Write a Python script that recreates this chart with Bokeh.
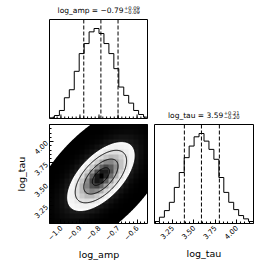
import numpy as np
from bokeh.plotting import figure
from bokeh.layouts import row, column
from bokeh.models import Span, FixedTicker, Range1d
from bokeh.core.properties import value
from bokeh.embed import file_html
from bokeh.resources import INLINE

# ---------------- data ----------------
amp_range = [-1.06, -0.54]
tau_range = [3.04, 4.20]
amp_counts = [2, 9, 24, 62, 86, 141, 194, 224, 259, 269, 254, 224, 194, 149, 94, 69, 46, 24, 12, 4]
tau_counts = [6, 19, 39, 64, 109, 154, 199, 234, 262, 272, 249, 224, 194, 139, 94, 64, 42, 24, 14, 6]
amp_quantiles = [-0.88, -0.79, -0.70]
tau_quantiles = [3.39, 3.59, 3.80]
amp_ticks = [-1.0, -0.9, -0.8, -0.7, -0.6]
amp_tick_labels = ["\u22121.0", "\u22120.9", "\u22120.8", "\u22120.7", "\u22120.6"]
tau_ticks = [3.25, 3.50, 3.75, 4.00]
tau_tick_labels = ["3.25", "3.50", "3.75", "4.00"]
amp_title = ["log_amp = \u22120.79", "+0.09", "\u22120.09"]
tau_title = ["log_tau = 3.59", "+0.21", "\u22120.20"]
# summary of the 2-D posterior (centre, spreads, correlation)
amp_center, amp_sigma = -0.79, 0.09
tau_center, tau_sigma = 3.59, 0.205
rho = 0.6
contour_sigmas = [0.5, 1.0, 1.5, 2.0]
sample_extent_sigma = 4.2

FONT = "DejaVu Sans"
nb = len(amp_counts)
FW = 99          # panel size in px
LEFT = 49        # left margin of first column
GAP = 6


def style(p):
    p.grid.visible = False
    p.outline_line_color = "black"
    p.outline_line_width = 1
    p.background_fill_color = "white"
    p.border_fill_color = "white"


def style_axis(ax, ticks, labels, minor):
    ax.ticker = FixedTicker(ticks=ticks, minor_ticks=minor)
    ax.major_label_overrides = {t: l for t, l in zip(ticks, labels)}
    ax.major_tick_in = 4
    ax.major_tick_out = 0
    ax.minor_tick_in = 2
    ax.minor_tick_out = 0
    ax.axis_line_color = None
    ax.major_tick_line_color = "black"
    ax.minor_tick_line_color = "black"
    ax.major_label_text_font = FONT
    ax.major_label_text_color = "black"
    ax.axis_label_text_font = FONT
    ax.axis_label_text_color = "black"
    ax.axis_label_text_font_style = "normal"
    ax.axis_label_text_font_size = "9.5px"
    ax.major_label_text_font_size = "7px"
    ax.major_label_orientation = np.pi / 4
    ax.major_label_standoff = 3


def title_canvas(x_range, height, left, center, parts, right_off, base_y):
    t = figure(frame_width=FW, frame_height=height, x_range=x_range,
               y_range=Range1d(0, height), x_axis_type=None, y_axis_type=None,
               min_border_left=left, min_border_right=0, min_border_top=0,
               min_border_bottom=0, toolbar_location=None, output_backend="svg")
    t.grid.visible = False
    t.outline_line_color = None
    t.text(x=[center], y=[base_y], text=[parts[0]], x_offset=right_off,
           text_align="right", text_baseline="middle", text_font=value(FONT),
           text_font_size=value("7.5px"), text_color="black")
    t.text(x=[center], y=[base_y + 2.2], text=[parts[1]], x_offset=right_off + 0.5,
           text_align="left", text_baseline="middle", text_font=value(FONT),
           text_font_size=value("5.2px"), text_color="black")
    t.text(x=[center], y=[base_y - 2.1], text=[parts[2]], x_offset=right_off + 0.5,
           text_align="left", text_baseline="middle", text_font=value(FONT),
           text_font_size=value("5.2px"), text_color="black")
    return t


amp_minor = list(np.round(np.arange(-1.06, -0.53, 0.02), 3))
tau_minor = list(np.round(np.arange(3.05, 4.21, 0.05), 3))
amp_edges = np.linspace(amp_range[0], amp_range[1], nb + 1)
tau_edges = np.linspace(tau_range[0], tau_range[1], nb + 1)
amp_xr = Range1d(*amp_range)
tau_xr = Range1d(*tau_range)

# ---------------- top-left: log_amp histogram ----------------
amp_top = 1.1 * max(amp_counts)
t1 = title_canvas(amp_xr, 19, LEFT, 0.5 * sum(amp_range), amp_title, 24.5, 9.3)
p1 = figure(frame_width=FW, frame_height=FW, x_range=amp_xr,
            y_range=Range1d(0, amp_top), x_axis_type=None, y_axis_type=None,
            min_border_left=LEFT, min_border_right=0,
            min_border_top=0, min_border_bottom=GAP, toolbar_location=None,
            output_backend="svg")
style(p1)
# inward tick marks on the shared log_amp axis (no labels in this panel)
px = amp_top / FW
p1.segment(x0=amp_ticks, y0=[0] * len(amp_ticks), x1=amp_ticks,
           y1=[4 * px] * len(amp_ticks), line_color="black", line_width=1)
p1.segment(x0=amp_minor, y0=[0] * len(amp_minor), x1=amp_minor,
           y1=[2 * px] * len(amp_minor), line_color="black", line_width=1)
p1.step(x=list(amp_edges), y=amp_counts + [amp_counts[-1]], mode="after",
        line_color="black", line_width=1)
for q in amp_quantiles:
    p1.add_layout(Span(location=q, dimension="height", line_color="black",
                       line_dash="4 2", line_width=1))

# ---------------- bottom-left: 2-D density ----------------
p2 = figure(frame_width=FW, frame_height=FW, x_range=amp_xr,
            y_range=Range1d(*tau_range), min_border_left=LEFT, min_border_right=0,
            min_border_top=0, min_border_bottom=50, toolbar_location=None,
            output_backend="svg")
style(p2)
style_axis(p2.xaxis[0], amp_ticks, amp_tick_labels, amp_minor)
style_axis(p2.yaxis[0], tau_ticks, tau_tick_labels, tau_minor)
p2.xaxis.axis_label = "log_amp"
p2.yaxis.axis_label = "log_tau"
p2.xaxis.axis_label_standoff = 3
p2.yaxis.axis_label_standoff = 1


def mahal2(a, t):
    za = (a - amp_center) / amp_sigma
    zt = (t - tau_center) / tau_sigma
    return (za ** 2 - 2 * rho * za * zt + zt ** 2) / (1 - rho ** 2)


fx = np.linspace(amp_range[0] - 0.1, amp_range[1] + 0.1, 240)
fy = np.linspace(tau_range[0] - 0.2, tau_range[1] + 0.2, 240)
FX, FY = np.meshgrid(fx, fy)
R2 = mahal2(FX, FY)
p2.contour(fx, fy, R2, levels=[0, contour_sigmas[-1] ** 2, sample_extent_sigma ** 2],
           fill_color=["white", "black"], line_color=None)

ac = 0.5 * (amp_edges[:-1] + amp_edges[1:])
tc = 0.5 * (tau_edges[:-1] + tau_edges[1:])
AC, TC = np.meshgrid(ac, tc)
H = np.exp(-0.5 * mahal2(AC, TC))
g = H / H.max()
img = np.empty((nb, nb), dtype=np.uint32)
view = img.view(dtype=np.uint8).reshape((nb, nb, 4))
c = np.clip((1 - g) * 255, 0, 255).astype(np.uint8)
view[..., 0] = c
view[..., 1] = c
view[..., 2] = c
view[..., 3] = np.clip(g * 255, 0, 255).astype(np.uint8)
p2.image_rgba(image=[img], x=amp_range[0], y=tau_range[0],
              dw=amp_range[1] - amp_range[0], dh=tau_range[1] - tau_range[0])

p2.contour(fx, fy, R2, levels=[s ** 2 for s in contour_sigmas],
           line_color="black", line_width=1, fill_color=None)

# ---------------- bottom-right: log_tau histogram ----------------
tau_top = 1.1 * max(tau_counts)
t3 = title_canvas(tau_xr, 124, GAP, 0.5 * sum(tau_range), tau_title, 19.2, 9.3)
p3 = figure(frame_width=FW, frame_height=FW, x_range=tau_xr,
            y_range=Range1d(0, tau_top), min_border_left=GAP, min_border_right=4,
            min_border_top=0, min_border_bottom=50, toolbar_location=None,
            output_backend="svg")
style(p3)
p3.yaxis.visible = False
style_axis(p3.xaxis[0], tau_ticks, tau_tick_labels, tau_minor)
p3.xaxis.axis_label = "log_tau"
p3.xaxis.axis_label_standoff = 3
p3.step(x=list(tau_edges), y=tau_counts + [tau_counts[-1]], mode="after",
        line_color="black", line_width=1)
for q in tau_quantiles:
    p3.add_layout(Span(location=q, dimension="height", line_color="black",
                       line_dash="4 2", line_width=1))

layout = row(column(t1, p1, p2, spacing=0), column(t3, p3, spacing=0), spacing=0)
open("out.html", "w").write(file_html(layout, INLINE))
